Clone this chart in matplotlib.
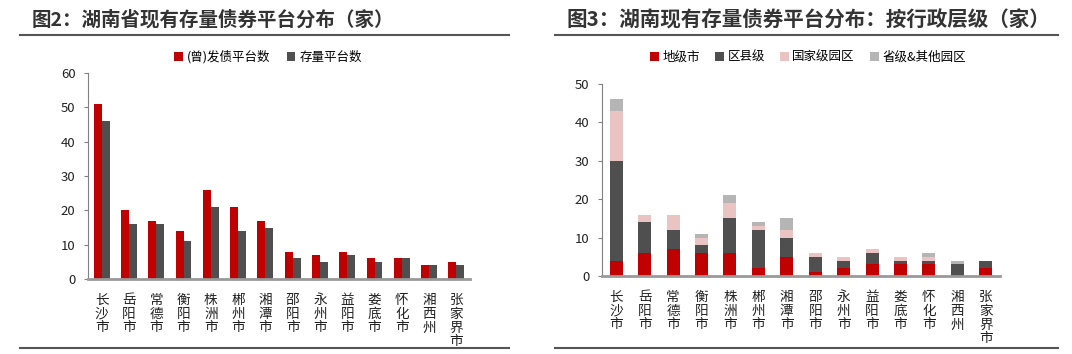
import matplotlib
matplotlib.use("Agg")
import matplotlib.pyplot as plt
import numpy as np

plt.rcParams['font.family'] = ['Noto Sans CJK SC', 'DejaVu Sans']

cities = ["长沙市", "岳阳市", "常德市", "衡阳市", "株洲市", "郴州市", "湘潭市",
          "邵阳市", "永州市", "益阳市", "娄底市", "怀化市", "湘西州", "张家界市"]

issued = [51, 20, 17, 14, 26, 21, 17, 8, 7, 8, 6, 6, 4, 5]
existing = [46, 16, 16, 11, 21, 14, 15, 6, 5, 7, 5, 6, 4, 4]

prefecture = [4, 6, 7, 6, 6, 2, 5, 1, 2, 3, 3, 3, 0, 2]
county = [26, 8, 5, 2, 9, 10, 5, 4, 2, 3, 1, 1, 3, 2]
national_park = [13, 2, 4, 2, 4, 1, 2, 1, 1, 1, 1, 1, 0, 0]
provincial_park = [3, 0, 0, 1, 2, 1, 3, 0, 0, 0, 0, 1, 1, 0]

RED = "#C00000"
DARK = "#4F4F4F"
PINK = "#EAC3C3"
LGRAY = "#B5B5B5"
TXT = "#222222"

W, H = 1072, 354
fig = plt.figure(figsize=(W / 100, H / 100), dpi=100)


def px_axes(l, t, r, b):
    return fig.add_axes([l / W, 1 - b / H, (r - l) / W, (b - t) / H])


def style(ax, ymax, step):
    ax.set_xlim(-0.5, len(cities) - 0.5)
    ax.set_ylim(0, ymax)
    ax.set_yticks(np.arange(0, ymax + 1, step))
    for s in ["top", "right"]:
        ax.spines[s].set_visible(False)
    ax.spines["left"].set_color("#808080")
    ax.spines["bottom"].set_color("#999999")
    ax.spines["bottom"].set_linewidth(2)
    ax.tick_params(axis="y", length=3, color="#808080", labelsize=9.5,
                   labelcolor=TXT, pad=6)
    ax.tick_params(axis="x", length=0, labelsize=9.8, labelcolor=TXT, pad=10)
    ax.set_xticks(range(len(cities)))
    ax.set_xticklabels(["\n".join(c) for c in cities], linespacing=0.98,
                       va="top")


# left chart
ax1 = px_axes(88, 73, 470, 279)
x = np.arange(len(cities))
bw = 0.29
ax1.bar(x - bw / 2, issued, bw, color=RED, label="(曾)发债平台数")
ax1.bar(x + bw / 2, existing, bw, color=DARK, label="存量平台数")
style(ax1, 60, 10)
ax1.legend(loc="center", bbox_to_anchor=(268 / W, 1 - 57 / H),
           bbox_transform=fig.transFigure, ncol=2, frameon=False,
           fontsize=9, handlelength=0.7, handleheight=0.7,
           handletextpad=0.3, columnspacing=1.3)

# right chart
ax2 = px_axes(602, 84, 1000, 276)
bw2 = 0.46
b = np.zeros(len(cities))
for vals, col, lab in [(prefecture, RED, "地级市"), (county, DARK, "区县级"),
                       (national_park, PINK, "国家级园区"),
                       (provincial_park, LGRAY, "省级&其他园区")]:
    ax2.bar(x, vals, bw2, bottom=b, color=col, label=lab)
    b = b + np.array(vals)
style(ax2, 50, 10)
ax2.legend(loc="center", bbox_to_anchor=(808 / W, 1 - 57 / H),
           bbox_transform=fig.transFigure, ncol=4, frameon=False,
           fontsize=9, handlelength=0.7, handleheight=0.7,
           handletextpad=0.3, columnspacing=1.2)

# titles and rules
fig.text(32 / W, 1 - 20 / H, "图2：湖南省现有存量债券平台分布（家）",
         fontsize=14, fontweight="bold", color="#333333", va="center")
fig.text(566 / W, 1 - 20 / H, "图3：湖南现有存量债券平台分布：按行政层级（家）",
         fontsize=14.8, fontweight="bold", color="#333333", va="center")
for l, r in [(20, 509), (555, 1058)]:
    for y in (35, 348):
        fig.add_artist(plt.Line2D([l / W, r / W], [1 - y / H, 1 - y / H],
                                  color="#555555", lw=1.5))

fig.savefig("out.png", dpi=100)
